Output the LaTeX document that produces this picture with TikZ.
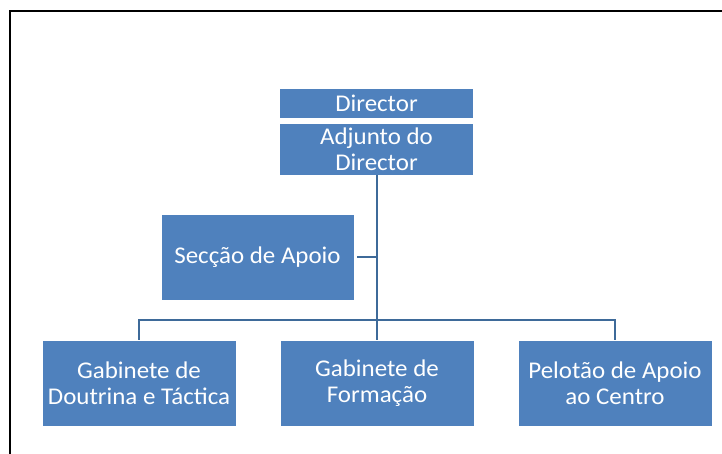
\documentclass[tikz,border=0pt]{standalone}
\usepackage{fontspec}
\setmainfont[FakeStretch=1.04]{Carlito}
\definecolor{boxblue}{HTML}{4F81BD}
\definecolor{lineblue}{HTML}{3E6A99}
\begin{document}
\begin{tikzpicture}[x=1pt,y=-1pt,
  orgbox/.style={fill=boxblue,draw=white,line width=0.6pt,text=white,align=center,inner sep=0pt,
    font=\fontsize{24}{26}\selectfont},
  conn/.style={draw=lineblue,line width=2.3pt}]
\useasboundingbox (0,0) rectangle (722,454);
\draw[line width=1.6pt] (730,11) -- (10,11) -- (10,470);
\node[orgbox,minimum width=194pt,minimum height=30pt] (dir) at (376.5,103.5) {Director};
\node[orgbox,minimum width=194pt,minimum height=52pt] (adj) at (376.5,149) {Adjunto do\\Director};
\node[orgbox,minimum width=193pt,minimum height=86pt] (sec) at (257.5,257) {Secção de Apoio};
\node[orgbox,minimum width=194pt,minimum height=86pt] (gdt) at (139,383) {Gabinete de\\Doutrina e Táctica};
\node[orgbox,minimum width=194pt,minimum height=86pt] (gf) at (377,383) {Gabinete de\\Formação};
\node[orgbox,minimum width=194pt,minimum height=86pt] (pac) at (615,383) {Pelotão de Apoio\\ao Centro};
\coordinate (bus) at (377,320);
\coordinate (secj) at (377,257);
\draw[conn] (adj.south -| bus) -- (gf.north);
\draw[conn] ([xshift=3pt]sec.east) -- (secj);
\draw[conn] (gdt.north) -- (gdt.north |- bus) -- (pac.north |- bus) -- (pac.north);
\end{tikzpicture}
\end{document}
